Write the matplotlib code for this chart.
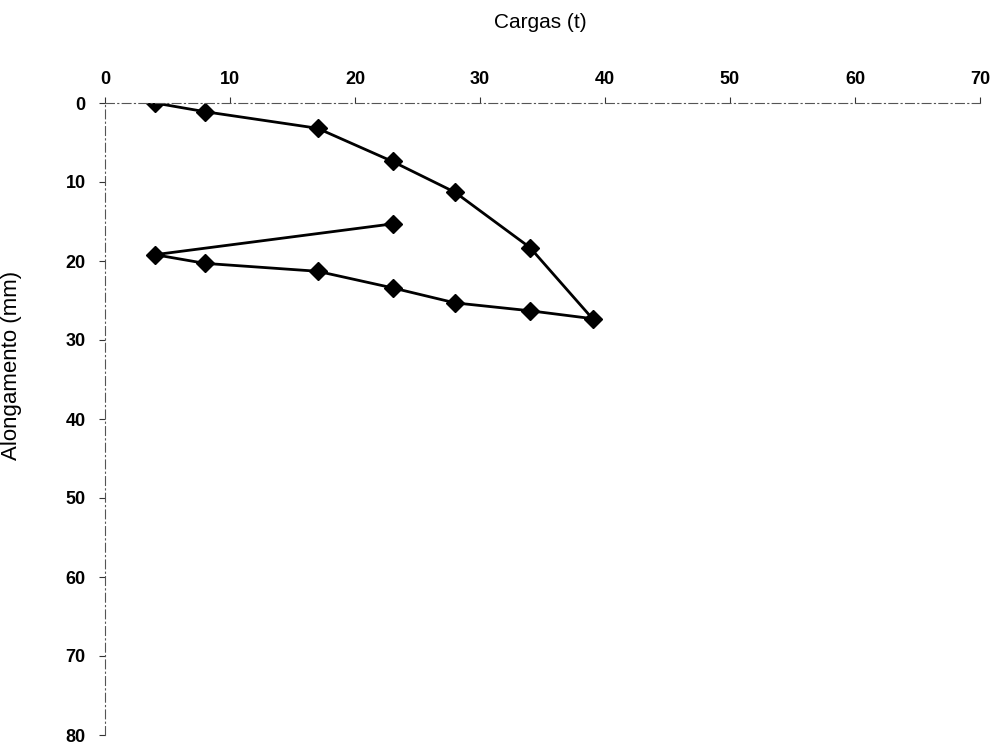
import matplotlib
matplotlib.use("Agg")
import matplotlib.pyplot as plt

# Load / unload cycle
cargas = [4, 8, 17, 23, 28, 34, 39, 34, 28, 23, 17, 8, 4, 23]
alongamento = [0, 1.1, 3.2, 7.4, 11.3, 18.3, 27.3, 26.3, 25.3, 23.4, 21.3, 20.3, 19.2, 15.3]

x_ticks = [0, 10, 20, 30, 40, 50, 60, 70]
y_ticks = [0, 10, 20, 30, 40, 50, 60, 70, 80]

plt.rcParams['font.family'] = ['Liberation Sans', 'DejaVu Sans']

fig = plt.figure(figsize=(9.99, 7.48), dpi=100)
ax = fig.add_axes([105 / 999, 1 - 735 / 748, 875 / 999, 632 / 748])

ax.plot(cargas, alongamento, color='black', linewidth=2,
        marker='D', markersize=9, markerfacecolor='black', markeredgecolor='black')

ax.set_xlim(0, 70)
ax.set_ylim(80, 0)
ax.set_xticks(x_ticks)
ax.set_yticks(y_ticks)

ax.xaxis.tick_top()
ax.xaxis.set_label_position('top')
ax.tick_params(axis='x', direction='out', length=4, width=0.8, pad=7, labelsize=13, colors='#333333')
ax.tick_params(axis='y', direction='out', length=4, width=0.8, pad=10, labelsize=13, colors='#333333')
for lbl in ax.get_xticklabels() + ax.get_yticklabels():
    lbl.set_fontweight('bold')
    lbl.set_color('black')

for side in ['right', 'bottom']:
    ax.spines[side].set_visible(False)
for side in ['top', 'left']:
    ax.spines[side].set_linestyle((0, (8, 3, 1, 3)))
    ax.spines[side].set_linewidth(0.8)
    ax.spines[side].set_color('#555555')

ax.set_xlabel('Cargas (t)', fontsize=15)
ax.xaxis.set_label_coords(0.497, 1.118)
ax.set_ylabel('Alongamento (mm)', fontsize=16)
ax.yaxis.set_label_coords(-0.095, 0.585)

fig.savefig('out.png', dpi=100)
